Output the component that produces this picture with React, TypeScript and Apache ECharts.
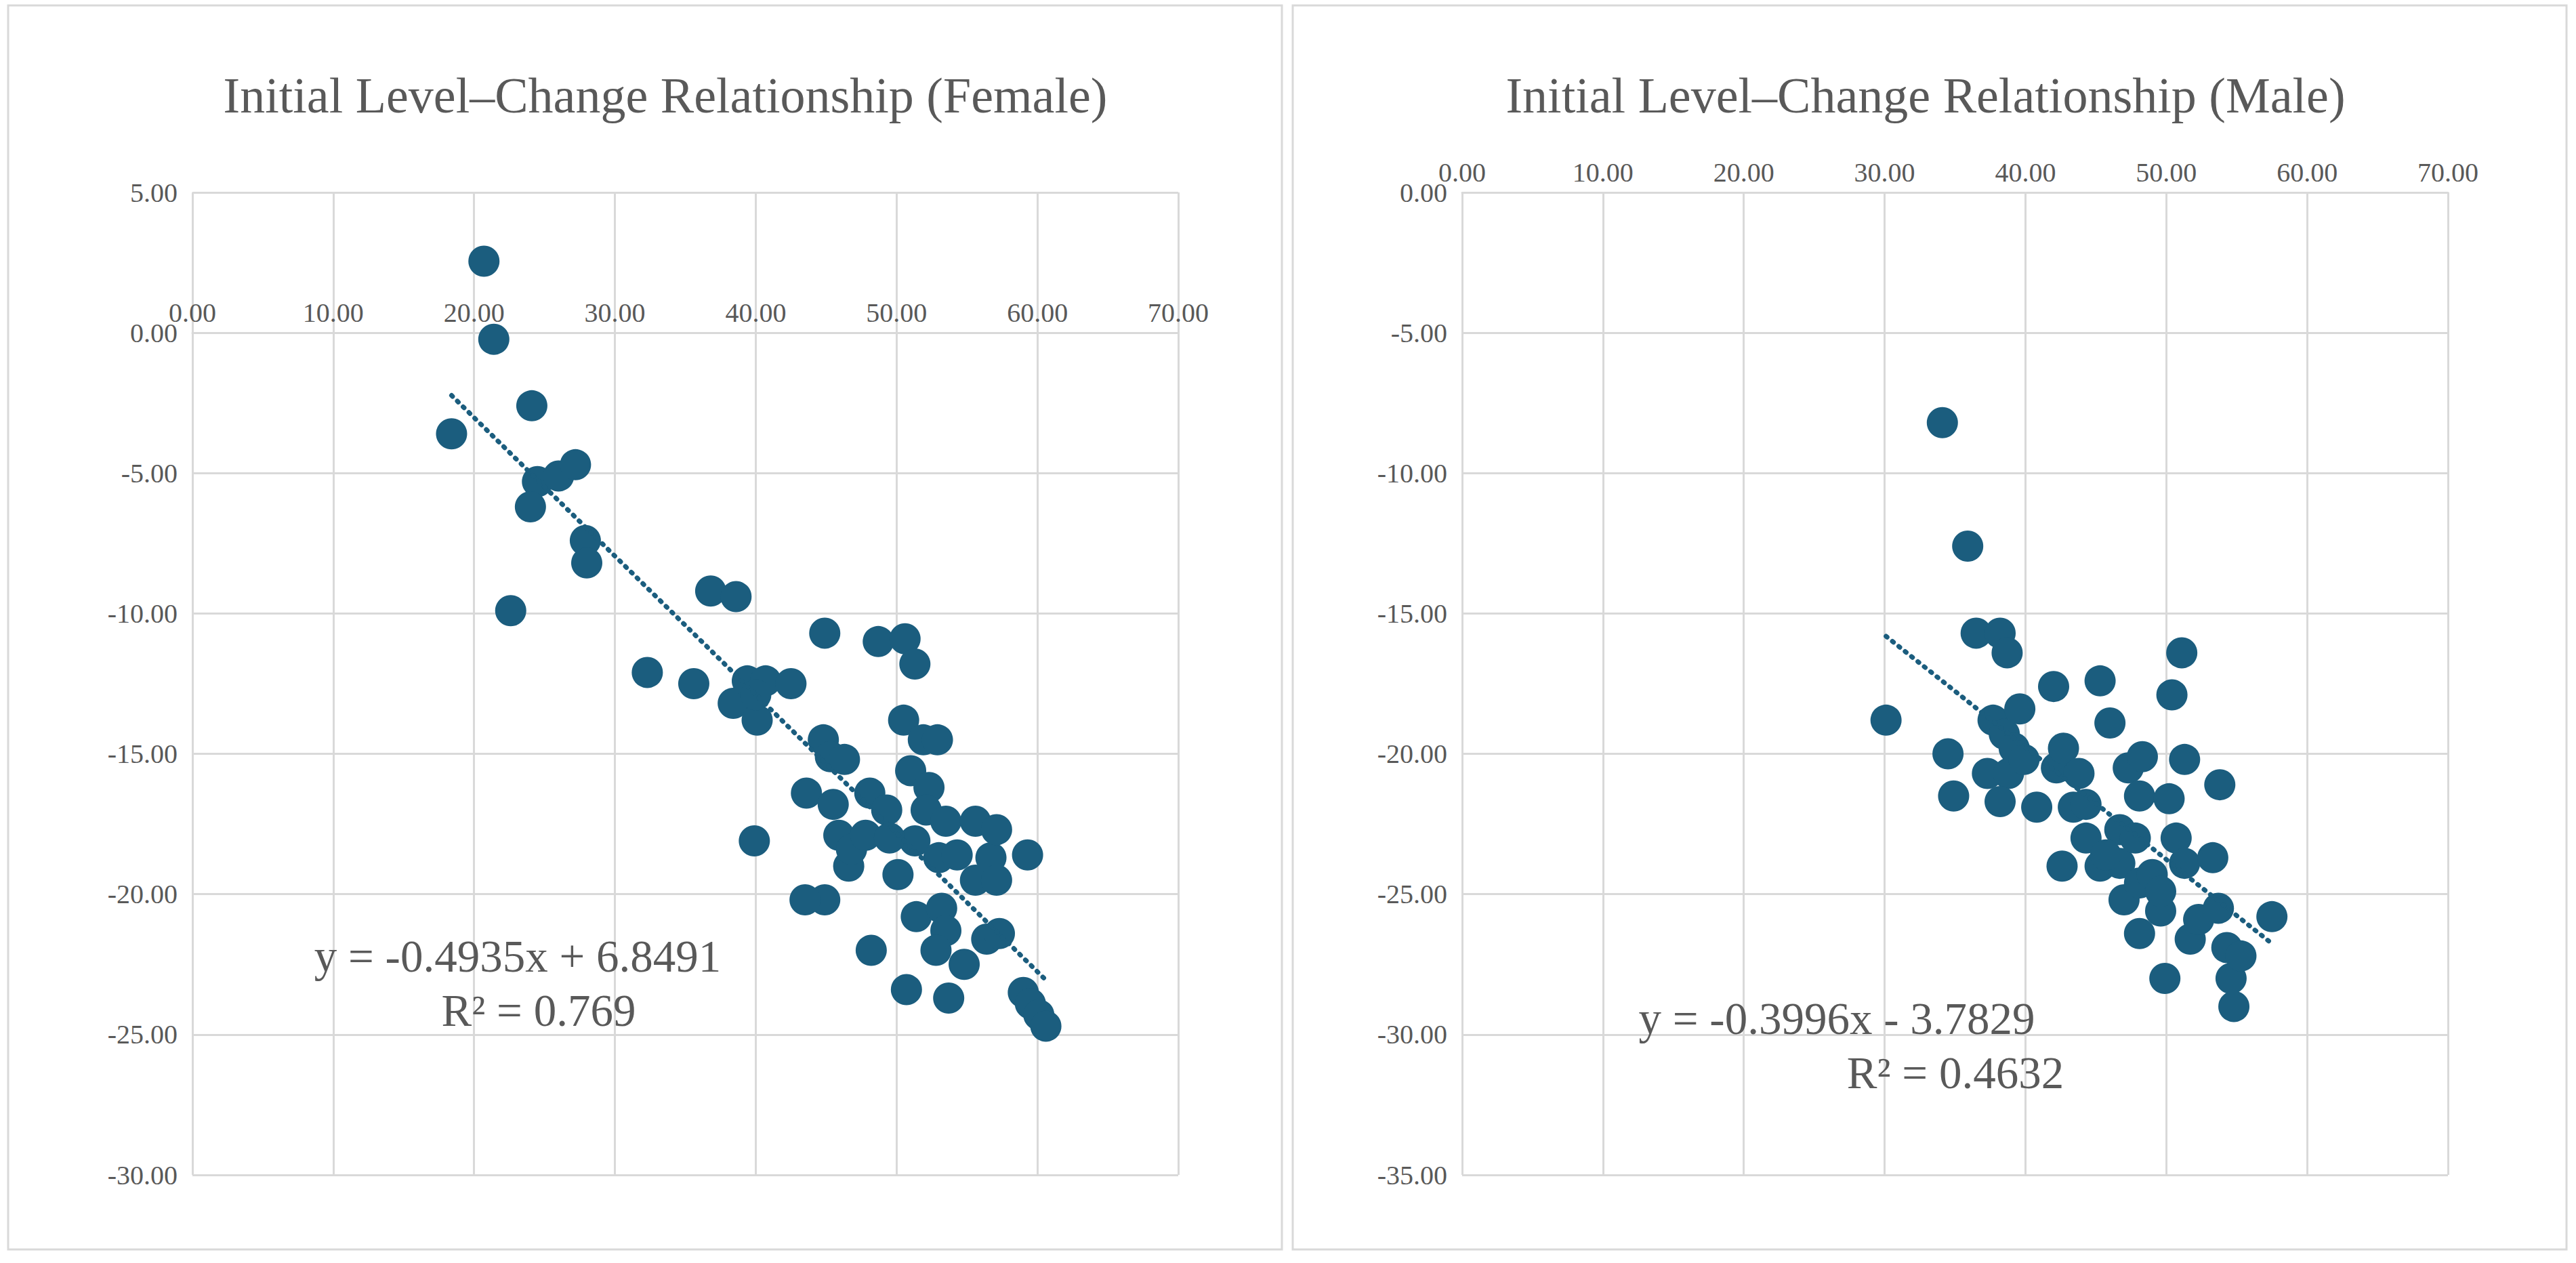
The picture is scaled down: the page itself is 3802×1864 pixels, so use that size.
import * as echarts from "echarts";
import { useEffect, useRef } from "react";

const femalePoints: Array<[number, number]> = [
  [20.7, 2.55], [21.4, -0.23], [18.4, -3.6], [24.1, -2.6], [24.5, -5.3], [24.0, -6.2],
  [26.0, -5.1], [27.2, -4.7], [27.9, -7.4], [28.0, -8.2], [22.6, -9.9], [32.3, -12.1],
  [35.6, -12.5], [36.8, -9.2], [38.6, -9.4], [38.4, -13.2], [39.4, -12.4], [40.1, -13.8],
  [40.7, -12.4], [40.0, -12.9], [42.5, -12.5], [39.9, -18.1], [44.9, -10.7], [44.8, -14.5],
  [45.3, -15.1], [43.6, -16.4], [45.5, -16.8], [46.3, -15.2], [44.9, -20.2], [43.5, -20.2],
  [45.9, -17.9], [46.6, -19.0], [46.8, -18.4], [47.8, -17.9], [48.1, -16.4], [48.7, -11.0],
  [50.6, -10.9], [51.3, -11.8], [49.3, -17.0], [50.5, -13.8], [51.0, -15.6], [51.9, -14.5],
  [52.9, -14.5], [52.3, -16.2], [51.3, -18.1], [50.1, -19.3], [52.1, -17.0], [53.5, -17.4],
  [53.0, -18.7], [51.4, -20.8], [53.2, -20.5], [53.5, -21.3], [52.8, -22.0], [48.2, -22.0],
  [50.7, -23.4], [53.7, -23.7], [54.8, -22.5], [55.6, -17.4], [55.6, -19.5], [56.7, -18.7],
  [57.1, -17.7], [57.1, -19.5], [56.4, -21.6], [57.3, -21.4], [59.3, -18.6], [59.0, -23.5],
  [59.5, -23.9], [60.1, -24.3], [60.6, -24.7], [54.3, -18.6], [49.5, -18.0],
];

const malePoints: Array<[number, number]> = [
  [30.1, -18.8], [34.1, -8.2], [35.9, -12.6], [36.5, -15.7], [38.2, -15.7], [38.7, -16.4],
  [34.5, -20.0], [34.9, -21.5], [37.7, -18.8], [38.5, -19.3], [37.3, -20.7], [38.8, -20.7],
  [39.2, -19.8], [39.6, -18.4], [38.2, -21.7], [39.9, -20.2], [40.8, -21.9], [42.2, -20.5],
  [42.0, -17.6], [42.7, -19.8], [42.6, -24.0], [43.4, -21.9], [43.8, -20.7], [44.3, -21.8],
  [45.3, -17.4], [46.0, -18.9], [44.3, -23.0], [45.3, -24.0], [46.7, -22.7], [46.7, -23.9],
  [47.0, -25.2], [47.3, -20.5], [48.1, -21.5], [48.3, -20.1], [47.8, -23.0], [48.1, -24.6],
  [48.1, -26.4], [49.0, -24.3], [49.6, -25.6], [49.9, -28.0], [50.2, -21.6], [50.7, -23.0],
  [51.3, -23.9], [50.4, -17.9], [51.1, -16.4], [51.3, -20.2], [51.7, -26.6], [52.3, -25.9],
  [53.3, -23.7], [53.8, -21.1], [53.7, -25.5], [54.3, -26.9], [54.6, -28.0], [54.8, -29.0],
  [55.3, -27.2], [57.5, -25.8], [49.6, -24.9], [45.7, -23.6],
];

const femaleFit = { slope: -0.4935, intercept: 6.8491, eq: "y = -0.4935x + 6.8491", r2: "R² = 0.769" };
const maleFit = { slope: -0.3996, intercept: -3.7829, eq: "y = -0.3996x - 3.7829", r2: "R² = 0.4632" };

const dotColor = "#1b5d7e";
const gray = "#595959";
const font = "Liberation Serif";

function fitLine(pts: Array<[number, number]>, f: { slope: number; intercept: number }) {
  const xs = pts.map((p) => p[0]);
  const a = Math.min(...xs);
  const b = Math.max(...xs);
  return [[a, f.slope * a + f.intercept], [b, f.slope * b + f.intercept]];
}

function axes(idx: number, min: number, max: number, position: string, offset: number, inside: boolean) {
  return {
    x: {
      gridIndex: idx, type: "value", min: 0, max: 70, interval: 10, position, offset,
      axisLine: { onZero: false, lineStyle: { color: "#d9d9d9", width: 3 } },
      axisTick: { show: false },
      axisLabel: { inside, margin: 10, color: gray, fontFamily: font, fontSize: 40, formatter: (v: number) => v.toFixed(2) },
      splitLine: { lineStyle: { color: "#d9d9d9", width: 3 } },
    },
    y: {
      gridIndex: idx, type: "value", min, max, interval: 5,
      axisLine: { show: false }, axisTick: { show: false },
      axisLabel: { margin: 22, color: gray, fontFamily: font, fontSize: 40, formatter: (v: number) => v.toFixed(2) },
      splitLine: { lineStyle: { color: "#d9d9d9", width: 3 } },
    },
  };
}

export default function App() {
  const ref = useRef<HTMLDivElement | null>(null);
  useEffect(() => {
    if (!ref.current) return;
    const chart = echarts.init(ref.current, null, { renderer: "svg" });
    // left: zero line sits 30/35 of the plot height above the bottom
    const a0 = axes(0, -30, 5, "bottom", -Math.round((1450 * 30) / 35), true);
    const a1 = axes(1, -35, 0, "top", 0, false);
    const scatter = (i: number, data: Array<[number, number]>) => ({
      type: "scatter", xAxisIndex: i, yAxisIndex: i, data, symbolSize: 46,
      itemStyle: { color: dotColor, opacity: 1 },
    });
    const trend = (i: number, data: number[][]) => ({
      type: "line", xAxisIndex: i, yAxisIndex: i, data, showSymbol: false, z: 5,
      lineStyle: { color: dotColor, width: 7, type: [2, 10], cap: "round" },
    });
    const txt = (x: number, y: number, s: string, size: number) => ({
      type: "text", x, y,
      style: { text: s, fill: gray, font: `${size}px "${font}"`, textAlign: "center", textVerticalAlign: "middle" },
      z: 10,
    });
    chart.setOption({
      animation: false,
      backgroundColor: "#fff",
      grid: [
        { left: 284, top: 284, width: 1455, height: 1450 },
        { left: 2158, top: 284, width: 1455, height: 1450 },
      ],
      xAxis: [a0.x, a1.x],
      yAxis: [a0.y, a1.y],
      series: [
        scatter(0, femalePoints), trend(0, fitLine(femalePoints, femaleFit)),
        scatter(1, malePoints), trend(1, fitLine(malePoints, maleFit)),
      ],
      graphic: [
        { type: "rect", shape: { x: 12, y: 8, width: 1880, height: 1836 }, style: { fill: "none", stroke: "#d9d9d9", lineWidth: 3 } },
        { type: "rect", shape: { x: 1908, y: 8, width: 1880, height: 1836 }, style: { fill: "none", stroke: "#d9d9d9", lineWidth: 3 } },
        txt(982, 141, "Initial Level–Change Relationship (Female)", 74),
        txt(2842, 141, "Initial Level–Change Relationship (Male)", 74),
        txt(764, 1411, femaleFit.eq, 67),
        txt(795, 1491, femaleFit.r2, 67),
        txt(2711, 1503, maleFit.eq, 67),
        txt(2886, 1583, maleFit.r2, 67),
      ],
    });
    return () => chart.dispose();
  }, []);
  return <div ref={ref} style={{ position: "fixed", left: 0, top: 0, width: 3802, height: 1864 }} />;
}
